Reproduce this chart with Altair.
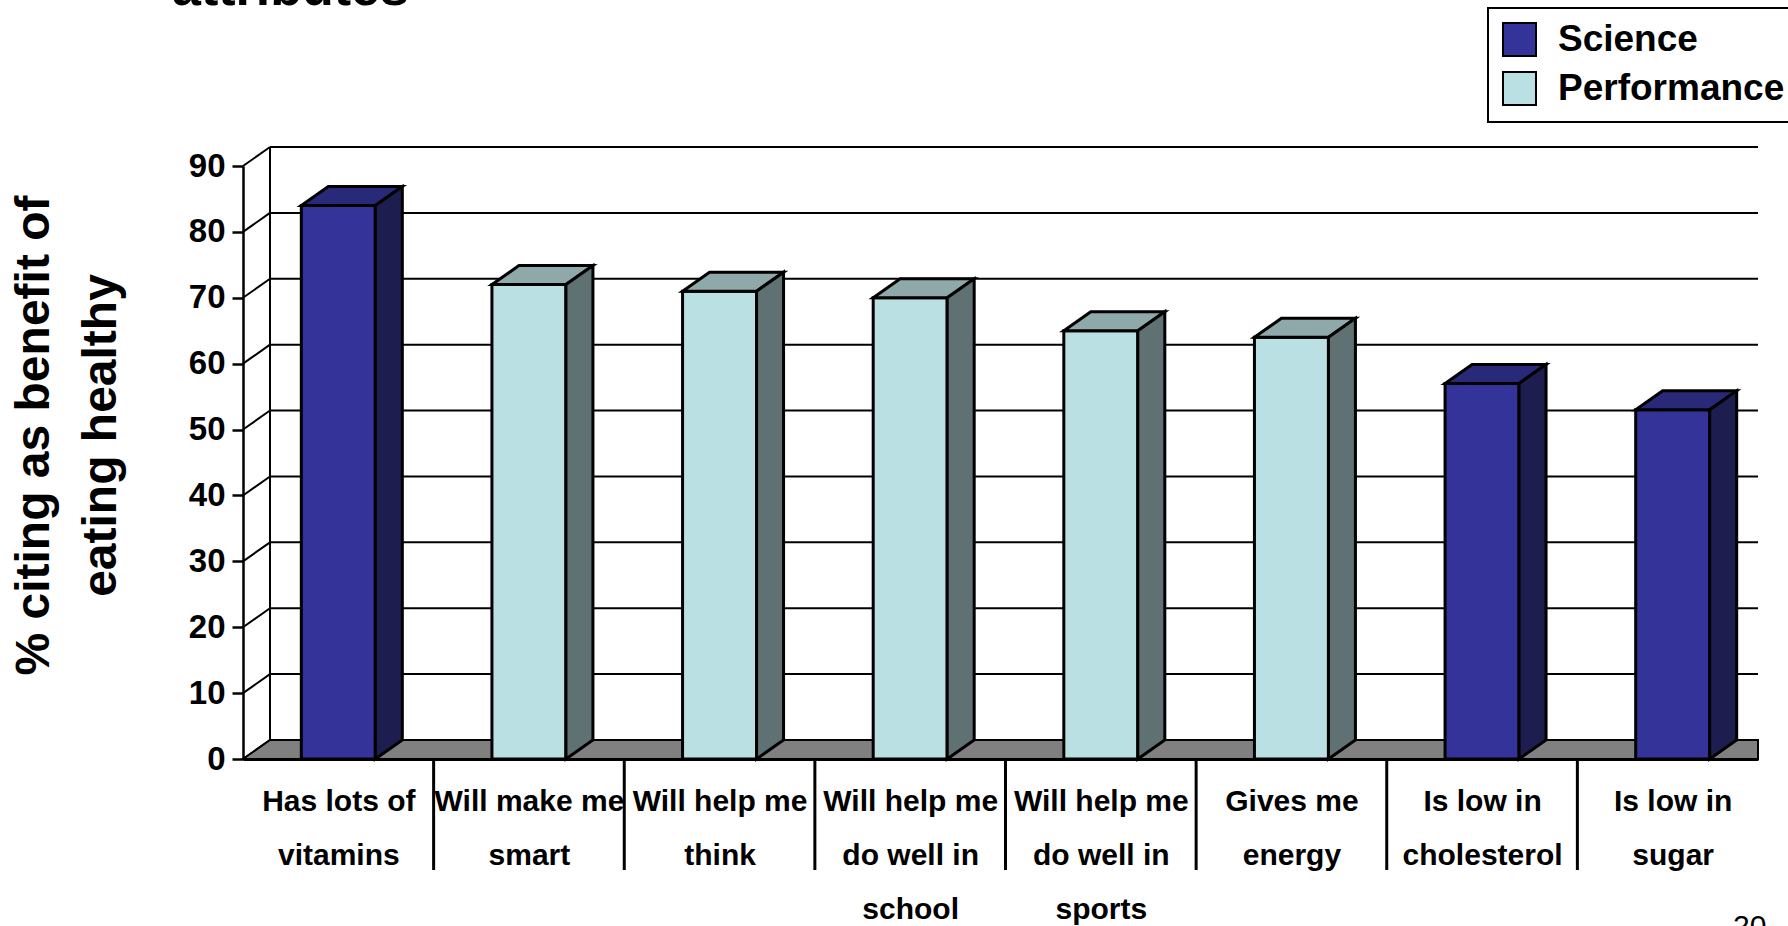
import json
import altair as alt
import pandas as pd

# ---------------- data ----------------
categories = [
    "Has lots of vitamins", "Will make me smart", "Will help me think",
    "Will help me do well in school", "Will help me do well in sports",
    "Gives me energy", "Is low in cholesterol", "Is low in sugar",
]
label_lines = [
    ["Has lots of", "vitamins"], ["Will make me", "smart"], ["Will help me", "think"],
    ["Will help me", "do well in", "school"], ["Will help me", "do well in", "sports"],
    ["Gives me", "energy"], ["Is low in", "cholesterol"], ["Is low in", "sugar"],
]
groups = ["Science", "Performance", "Performance", "Performance",
          "Performance", "Performance", "Science", "Science"]
values = [84, 72, 71, 70, 65, 64, 57, 53]
y_ticks = [0, 10, 20, 30, 40, 50, 60, 70, 80, 90]
series_names = ["Science", "Performance"]
y_title = ["% citing as benefit of", "eating healthy"]
title_tail = "attributes"
page_number = "20"

# ---------------- style ----------------
FONT = "Liberation Sans"
front_colors = ["#333399", "#BBE0E3"]
top_colors = {"Science": "#29297A", "Performance": "#8FA9AB"}
side_colors = {"Science": "#1D1D4F", "Performance": "#5F7173"}
FLOOR = "#808080"

n = len(categories)
STEP_PX = 190.625          # width of one category
W = 1515                   # visible plot width (the picture is cut at its right)
H = 593
Y_MAX = 90
X_MAX = W / STEP_PX
DEPTH_X_PX, DEPTH_Y_PX = 27, 19
BAR_PX = 74
dxu = DEPTH_X_PX / STEP_PX
dyu = DEPTH_Y_PX * Y_MAX / H
hw = BAR_PX / 2 / STEP_PX

xs = alt.Scale(domain=[0, X_MAX], nice=False, zero=False)
ys = alt.Scale(domain=[0, Y_MAX], nice=False)

label_expr = json.dumps(label_lines) + "[floor(datum.value)]"
x_axis = alt.Axis(
    title="", values=[i + 0.5 for i in range(n)], labelExpr=label_expr,
    ticks=False, grid=False, domainColor="black", domainWidth=3,
    labelFont=FONT, labelFontSize=30, labelFontWeight="bold", labelColor="black",
    labelLineHeight=54, labelPadding=27, labelOverlap=False, labelFlush=False,
    labelBound=False, labelBaseline="top", labelLimit=400)
y_axis = alt.Axis(
    title=y_title, values=y_ticks, grid=False, tickSize=11, tickWidth=2.5,
    tickColor="black", domainColor="black", domainWidth=2.5,
    labelFont=FONT, labelFontSize=33, labelFontWeight="bold", labelColor="black",
    labelPadding=7, titleFont=FONT, titleFontSize=48, titleFontWeight="bold",
    titleColor="black", titleLineHeight=67, titleAngle=270, titleAlign="center",
    titleBaseline="top", titleX=-233, titleY=269)


def X(field, **kw):
    return alt.X(field, scale=xs, axis=x_axis, **kw)


def Y(field, **kw):
    return alt.Y(field, scale=ys, axis=y_axis, **kw)


# ---------------- derived tables ----------------
bars = pd.DataFrame({
    "cat": categories, "group": groups, "value": values,
    "xl": [i + 0.5 - hw for i in range(n)],
    "xr": [i + 0.5 + hw for i in range(n)],
})

top_rows, side_rows = [], []
for i in range(n):
    xl, xr, v, g = bars.xl[i], bars.xr[i], values[i], groups[i]
    top_rows += [dict(cat=categories[i], group=g, y=v, x=xl, x2=xr),
                 dict(cat=categories[i], group=g, y=v + dyu, x=xl + dxu, x2=xr + dxu)]
    side_rows += [dict(cat=categories[i], group=g, x=xr, y=0, y2=v),
                  dict(cat=categories[i], group=g, x=xr + dxu, y=dyu, y2=v + dyu)]
tops = pd.DataFrame(top_rows)
sides = pd.DataFrame(side_rows)

grid = pd.DataFrame({"y": [t + dyu for t in y_ticks], "x": dxu, "x2": X_MAX,
                     "yf": y_ticks, "xf": 0.0})
wall = pd.DataFrame({"x": [dxu], "y": [dyu], "y2": [Y_MAX + dyu]})
floor = pd.DataFrame({"y": [0, dyu], "x": [0, dxu], "x2": [X_MAX, X_MAX]})
seps = pd.DataFrame({"b": list(range(1, n))})

# ---------------- layers ----------------
grid_back = alt.Chart(grid).mark_rule(color="black", strokeWidth=2).encode(
    x=X("x:Q"), x2="x2:Q", y=Y("y:Q"),
)
grid_diag = alt.Chart(grid).mark_rule(color="black", strokeWidth=2).encode(
    x=X("xf:Q"), x2="x:Q", y=Y("yf:Q"), y2="y:Q",
)
wall_left = alt.Chart(wall).mark_rule(color="black", strokeWidth=2).encode(
    x=X("x:Q"), y=Y("y:Q"), y2="y2:Q",
)
floor_l = alt.Chart(floor).mark_area(orient="horizontal", color=FLOOR, stroke="black",
                                     strokeWidth=2).encode(
    y=Y("y:Q"), x=X("x:Q", stack=False), x2="x2:Q",
)

front = alt.Chart(bars).mark_rect(stroke="black", strokeWidth=3).encode(
    x=X("xl:Q"), x2="xr:Q",
    y=Y("value:Q"), y2=alt.datum(0),
    color=alt.Color("group:N", scale=alt.Scale(domain=series_names, range=front_colors),
                    title=None, legend=alt.Legend(
                        orient="none", legendX=1245, legendY=-158, direction="vertical",
                        symbolType="square", symbolSize=1089, symbolStrokeColor="black",
                        symbolStrokeWidth=2, labelFont=FONT, labelFontSize=37,
                        labelFontWeight="bold", labelColor="black", labelOffset=20,
                        labelLimit=400, rowPadding=8, padding=13, strokeColor="black")),
)

top = alt.Chart(tops).mark_area(orient="horizontal", stroke="black", strokeWidth=3).encode(
    y=Y("y:Q"), x=X("x:Q", stack=False), x2="x2:Q",
    detail="cat:N",
    fill=alt.condition(alt.datum.group == "Science",
                       alt.value(top_colors["Science"]), alt.value(top_colors["Performance"])),
)
side = alt.Chart(sides).mark_area(orient="vertical", stroke="black", strokeWidth=3).encode(
    x=X("x:Q"), y=Y("y:Q", stack=False), y2="y2:Q",
    detail="cat:N",
    fill=alt.condition(alt.datum.group == "Science",
                       alt.value(side_colors["Science"]), alt.value(side_colors["Performance"])),
)

separators = alt.Chart(seps).mark_rule(color="black", strokeWidth=3).encode(
    x=X("b:Q"), y=alt.value(H), y2=alt.value(H + 111),
)

title_txt = alt.Chart(pd.DataFrame({"t": [title_tail]})).mark_text(
    align="left", baseline="alphabetic", font=FONT, fontSize=52, fontWeight="bold",
    color="black").encode(text="t:N", x=alt.value(-71), y=alt.value(-161))

page_txt = alt.Chart(pd.DataFrame({"t": [page_number]})).mark_text(
    align="left", baseline="top", font=FONT, fontSize=30, color="black").encode(
    text="t:N", x=alt.value(1490), y=alt.value(746))

chart = alt.layer(
    grid_back, grid_diag, wall_left, floor_l, front, top, side, separators,
    title_txt, page_txt,
).properties(
    width=W, height=H, autosize="none",
    padding={"left": 243, "top": 166, "right": 30, "bottom": 167},
    background="white",
).configure_view(stroke="transparent").configure_legend(strokeWidth=2)

chart.save("out.html", embed_options={"renderer": "svg", "actions": False})
